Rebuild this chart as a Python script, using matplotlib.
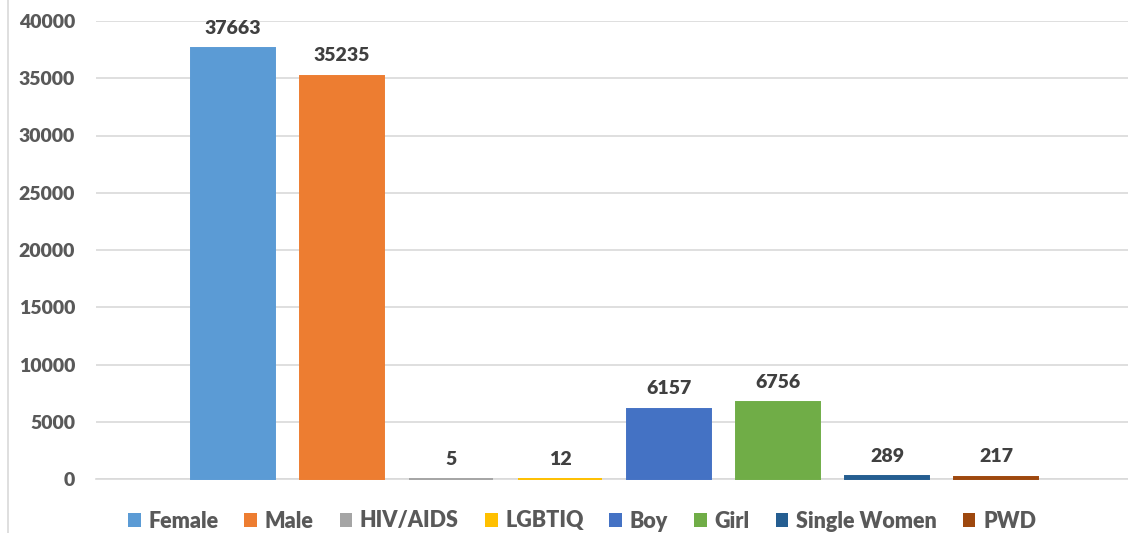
import numpy as np
import matplotlib
matplotlib.use("Agg")
import matplotlib.pyplot as plt
from matplotlib.lines import Line2D
from matplotlib.patches import Patch

# series (one category, eight series as in the Excel chart)
groups = ['Female', 'Male', 'HIV/AIDS', 'LGBTIQ', 'Boy', 'Girl', 'Single Women', 'PWD']
counts = [37663, 35235, 5, 12, 6157, 6756, 289, 217]
colors = ['#5B9BD5', '#ED7D31', '#A5A5A5', '#FFC000',
          '#4472C4', '#70AD47', '#255E91', '#9E480E']
yticks = [0, 5000, 10000, 15000, 20000, 25000, 30000, 35000, 40000]

plt.rcParams['font.family'] = ['Lato', 'DejaVu Sans']
plt.rcParams['font.weight'] = 'heavy'

W, H = 1128, 533
fig = plt.figure(figsize=(W / 100, H / 100), dpi=100)
ax = fig.add_axes([96 / W, 54 / H, 1 - 96 / W, 458 / H])

x = np.arange(len(groups))
bw = 84 / 109  # plus the edge line this gives ~86 px bars
bars = ax.bar(x, counts, width=bw, color=colors, edgecolor=colors,
              linewidth=1.4, zorder=3, clip_on=False)

for rect, v in zip(bars, counts):
    ax.annotate(str(v), (rect.get_x() + rect.get_width() / 2, rect.get_height()),
                xytext=(0, 8), textcoords='offset points', ha='center',
                va='bottom', fontsize=14, fontweight='heavy', color='#404040')

ax.set_ylim(0, 40000)
ax.set_xlim((96 - 233) / 109, (1128 - 233) / 109)
ax.set_yticks(yticks)
ax.set_xticks([])
ax.tick_params(axis='y', length=0, pad=15, labelsize=14, labelcolor='#595959')
for lab in ax.get_yticklabels():
    lab.set_fontweight('heavy')
ax.grid(axis='y', color='#D9D9D9', linewidth=1.2, zorder=0)
for s in ['top', 'right', 'left']:
    ax.spines[s].set_visible(False)
ax.spines['bottom'].set_color('#D9D9D9')
ax.spines['bottom'].set_linewidth(1.2)
ax.spines['bottom'].set_zorder(1)

# chart border on the left
fig.add_artist(Line2D([7.5 / W, 7.5 / W], [0, 1], color='#D9D9D9', linewidth=1.2))

handles = [Patch(facecolor=c, edgecolor='none') for c in colors]
leg = fig.legend(handles, groups, loc='center', bbox_to_anchor=(582 / W, 12 / H),
                 ncol=len(groups), frameon=False, fontsize=15.5,
                 handlelength=0.6, handleheight=0.6, handletextpad=0.35,
                 columnspacing=1.2, borderpad=0)
for t in leg.get_texts():
    t.set_color('#595959')
    t.set_fontweight('heavy')

fig.savefig('out.png', dpi=100)
